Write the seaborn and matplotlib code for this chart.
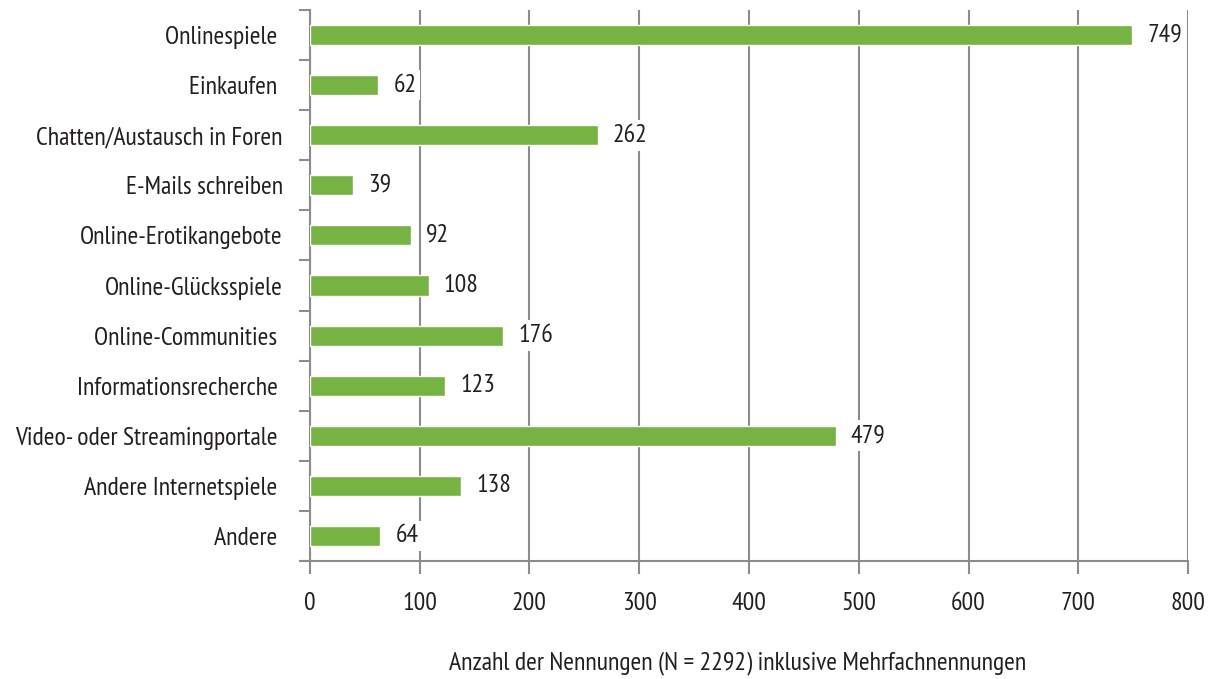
import matplotlib
matplotlib.use("Agg")
import matplotlib.pyplot as plt
import seaborn as sns
import pandas as pd
from matplotlib import font_manager as fm
from matplotlib.ticker import FixedLocator

# Internet activities and how often each was named
categories = [
    "Onlinespiele ",
    "Einkaufen ",
    "Chatten/Austausch in Foren",
    "E-Mails schreiben",
    "Online-Erotikangebote",
    "Online-Glücksspiele",
    "Online-Communities ",
    "Informationsrecherche ",
    "Video- oder Streamingportale ",
    "Andere Internetspiele ",
    "Andere ",
]
counts = [749, 62, 262, 39, 92, 108, 176, 123, 479, 138, 64]
x_ticks = [0, 100, 200, 300, 400, 500, 600, 700, 800]
x_label = "Anzahl der Nennungen (N = 2292) inklusive Mehrfachnennungen"

df = pd.DataFrame({"Kategorie": categories, "Anzahl": counts})

sns.set_theme(style="white")

# narrow sans-serif face, first one available
available = {f.name for f in fm.fontManager.ttflist}
preferred = ["PT Sans Narrow", "Open Sans Condensed", "IBM Plex Sans Condensed"]
face = next((n for n in preferred if n in available), None)
if face:
    plt.rcParams["font.family"] = [face, "DejaVu Sans"]
else:
    plt.rcParams["font.family"] = ["DejaVu Sans"]
    plt.rcParams["font.stretch"] = "condensed"

BAR = "#76b343"
GRID = "#8c8c8e"
TEXT = "#231f20"
FS = 18.5

fig = plt.figure(figsize=(12.11, 6.79), dpi=100)
ax = fig.add_axes([310 / 1211, 1 - 561 / 679, 878 / 1211, 551 / 679])

sns.barplot(data=df, x="Anzahl", y="Kategorie", orient="h", color=BAR,
            width=0.4, saturation=1, ax=ax, zorder=3)

ax.set_xlim(0, 800)
ax.set_ylim(len(categories) - 0.5, -0.5)

# vertical gridlines
ax.grid(axis="x", color=GRID, linewidth=1.5, zorder=0)
ax.grid(axis="y", visible=False)

for side in ["top", "right"]:
    ax.spines[side].set_visible(False)
for side in ["left", "bottom"]:
    ax.spines[side].set_color(GRID)
    ax.spines[side].set_linewidth(1.5)
ax.spines["bottom"].set_bounds(-7, 800)

ax.set_xticks(x_ticks)
ax.set_xticklabels([str(t) for t in x_ticks], fontsize=FS, color=TEXT)
ax.tick_params(axis="x", which="major", length=9, width=1.5, color=GRID,
               direction="out", pad=13, bottom=True)

# y tick marks between categories, labels at category centers
ax.yaxis.set_minor_locator(FixedLocator([i - 0.5 for i in range(len(categories) + 1)]))
ax.tick_params(axis="y", which="minor", length=8, width=1.5, color=GRID,
               direction="out", left=True)
ax.tick_params(axis="y", which="major", length=0, pad=19.5, left=True)
ax.set_yticklabels(categories, fontsize=FS, color=TEXT)
ax.set_ylabel("")

ax.set_xlabel(x_label, fontsize=FS, color=TEXT)
ax.xaxis.set_label_coords((738 - 310) / 878, (561 - 663) / 551)
ax.xaxis.label.set_va("center")

# value labels
for i, v in enumerate(counts):
    ax.annotate(str(v), xy=(v, i), xytext=(11, 0), textcoords="offset points",
                ha="left", va="center", fontsize=FS, color=TEXT, zorder=5,
                bbox=dict(boxstyle="square,pad=0.15", fc="white", ec="none"))

fig.savefig("out.png", dpi=100, facecolor="white")
